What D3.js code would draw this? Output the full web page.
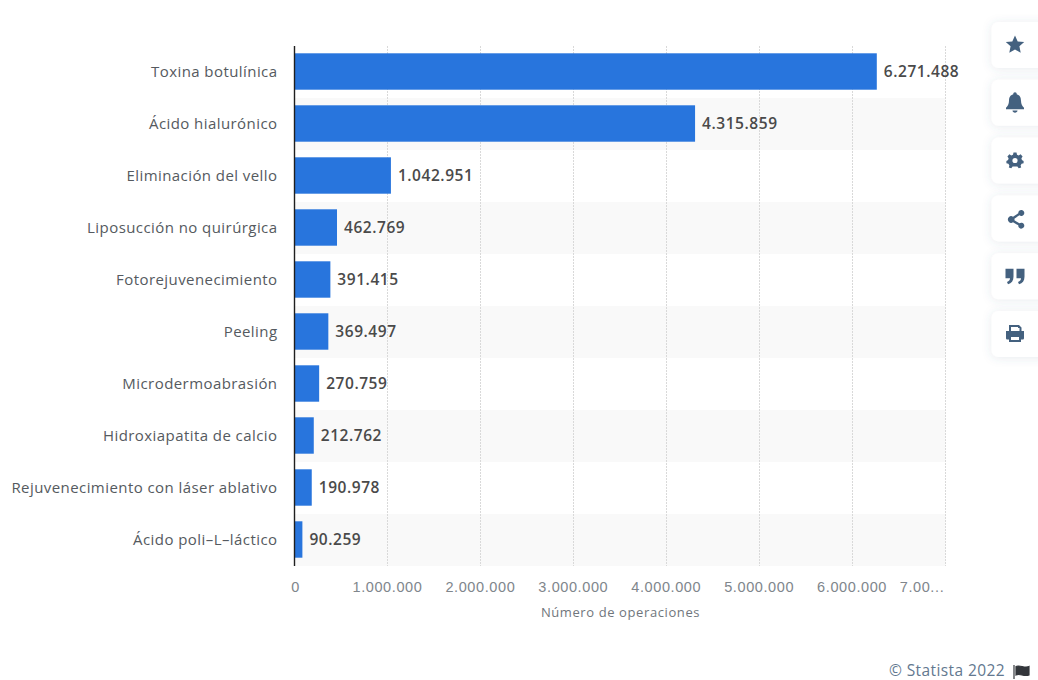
<!DOCTYPE html>
<html lang="es">
<head>
<meta charset="utf-8">
<script src="https://cdn.jsdelivr.net/npm/d3@7"></script>
<style>
html,body{margin:0;padding:0;background:#fff;overflow:hidden}
svg{display:block;font-family:"Open Sans",sans-serif}
</style>
</head>
<body>
<svg id="chart" width="1038" height="680"></svg>
<script>
// Procedimientos estéticos no quirúrgicos más realizados
const procedures = ["Toxina botulínica","Ácido hialurónico","Eliminación del vello","Liposucción no quirúrgica","Fotorejuvenecimiento","Peeling","Microdermoabrasión","Hidroxiapatita de calcio","Rejuvenecimiento con láser ablativo","Ácido poli–L–láctico"];
const operations = [6271488,4315859,1042951,462769,391415,369497,270759,212762,190978,90259];
const tickValues = [0,1000000,2000000,3000000,4000000,5000000,6000000,7000000];
const tickLabels = ["0","1.000.000","2.000.000","3.000.000","4.000.000","5.000.000","6.000.000","7.00..."];
const axisTitle = "Número de operaciones";
const credit = "© Statista 2022";
const sideButtons = ["star","bell","gear","share","quote","print"];

const es = d3.formatLocale({decimal:",",thousands:".",grouping:[3],currency:["","€"]});
const fmt = es.format(",d");

const svg = d3.select("#chart");
const defs = svg.append("defs");
const shadow = defs.append("filter").attr("id","card").attr("x","-40%").attr("y","-40%").attr("width","180%").attr("height","180%");
shadow.append("feDropShadow").attr("dx",0).attr("dy",1).attr("stdDeviation",5).attr("flood-color","#44617f").attr("flood-opacity",0.13);

const x = d3.scaleLinear().domain([0,7000000]).range([294,944.5]);
const y = d3.scaleBand().domain(procedures).range([45.5,565.5]).paddingInner(0.3).paddingOuter(0.15);
const rowH = y.step();

// bandas alternas
svg.append("g").selectAll("rect")
  .data(procedures.filter((d,i)=>i%2===1))
  .join("rect")
  .attr("x",x(0)).attr("width",x(7000000)-x(0)+1)
  .attr("y",d=>y(d)-(rowH-y.bandwidth())/2+0.5)
  .attr("height",rowH)
  .attr("fill","#f9f9f9");

// rejilla vertical punteada
svg.append("g").selectAll("line")
  .data(tickValues.slice(1))
  .join("line")
  .attr("x1",d=>Math.round(x(d))+0.5).attr("x2",d=>Math.round(x(d))+0.5)
  .attr("y1",46).attr("y2",566)
  .attr("stroke","#d9d9d9").attr("stroke-width",1).attr("stroke-dasharray","2 1");

// barras
svg.append("g").selectAll("rect")
  .data(procedures)
  .join("rect")
  .attr("x",x(0)).attr("y",d=>y(d))
  .attr("width",(d,i)=>x(operations[i])-x(0))
  .attr("height",y.bandwidth())
  .attr("fill","#2875dd");

// valores
svg.append("g").selectAll("text")
  .data(procedures)
  .join("text")
  .attr("x",(d,i)=>x(operations[i])+7)
  .attr("y",d=>y(d)+y.bandwidth()/2)
  .attr("dy","0.36em")
  .attr("font-size",15.5).attr("font-weight",600).attr("letter-spacing",0.55).attr("fill","#4a4a4a")
  .text((d,i)=>fmt(operations[i]));

// categorías
svg.append("g").selectAll("text")
  .data(procedures)
  .join("text")
  .attr("x",277.5)
  .attr("y",d=>y(d)+y.bandwidth()/2)
  .attr("dy","0.36em")
  .attr("text-anchor","end")
  .attr("font-size",15).attr("letter-spacing",0.43).attr("fill","#555a60")
  .text(d=>d);

// eje de categorías
svg.append("line").attr("x1",294.5).attr("x2",294.5).attr("y1",46).attr("y2",566)
  .attr("stroke","#1f1f1f").attr("stroke-width",1.4);

// etiquetas del eje de valores
const axis = d3.axisBottom(x).tickValues(tickValues).tickSize(0).tickPadding(0)
  .tickFormat((d,i)=>tickLabels[i]);
const gx = svg.append("g").attr("transform","translate(0,581.5)").call(axis);
gx.select(".domain").remove();
gx.selectAll("text").attr("font-family","inherit").attr("font-size",14.5).attr("letter-spacing",0.6).attr("fill","#80868c").attr("dy","0.71em");
gx.selectAll(".tick").filter(d=>d===0).select("text").attr("dx",1);
gx.selectAll(".tick").filter(d=>d===7000000).select("text").attr("dx",-23);

svg.append("text").attr("x",620.5).attr("y",617).attr("text-anchor","middle")
  .attr("font-size",13).attr("letter-spacing",0.6).attr("fill","#70767c").text(axisTitle);

// crédito y bandera
svg.append("text").attr("x",1005).attr("y",675.5).attr("text-anchor","end")
  .attr("font-size",15.5).attr("letter-spacing",0.4).attr("fill","#63788f").text(credit);
svg.append("path").attr("d","M1014 665V679M1016 666.5C1020 664.5 1024 668.5 1029 666.5V675C1024 677 1020 673 1016 675Z")
  .attr("fill","#33363b").attr("stroke","#33363b").attr("stroke-width",1.2);

// botones laterales
const glyphs = {
  star:"M0 -9L2.7 -3.1L9.2 -2.6L4.4 1.8L5.7 8.3L0 5L-5.7 8.3L-4.4 1.8L-9.2 -2.6L-2.7 -3.1Z",
  bell:"M0 -10C1.2 -10 1.8 -9 1.7 -8C4.9 -7.2 6 -4.5 6 -1.5C6 2 7.4 3.8 9 5.5V7H-9V5.5C-7.4 3.8 -6 2 -6 -1.5C-6 -4.5 -4.9 -7.2 -1.7 -8C-1.8 -9 -1.2 -10 0 -10ZM-2.5 8.2H2.5C2.5 9.6 1.3 10.4 0 10.4C-1.3 10.4 -2.5 9.6 -2.5 8.2Z",
  gear:"M-1.5 -7.5H1.5L2 -5.4L3.7 -4.7L5.6 -5.8L7.6 -3.6L6.4 -1.8L6.9 0L8.6 .8V3.2L6.6 3.7L5.6 5.3L6.2 7.3L3.7 8.1L2.4 6.5H-2.4L-3.7 8.1L-6.2 7.3L-5.6 5.3L-6.6 3.7L-8.6 3.2V.8L-6.9 0L-6.4 -1.8L-7.6 -3.6L-5.6 -5.8L-3.7 -4.7L-2 -5.4ZM0 -2.2A2.6 2.6 0 1 0 0.01 3A2.6 2.6 0 1 0 0 -2.2Z",
  share:"M-2 -1.2L3.3 -4.6A3 3 0 1 1 4.4 -2.6L-.6 .8A3 3 0 0 1 -.6 2.4L4.4 5.4A3 3 0 1 1 3.3 7.4L-2 4.4A3.3 3.3 0 1 1 -2 -1.2Z",
  quote:"M-9.5 -7H-1.5V1C-1.5 5 -3.5 7.6 -7 8.5L-8 6.2C-6 5.4 -5 4.2 -5 2.5H-9.5ZM1.5 -7H9.5V1C9.5 5 7.5 7.6 4 8.5L3 6.2C5 5.4 6 4.2 6 2.5H1.5Z",
  print:"M-6 -8.5H4L6.5 -6V-2.5H9V4.5C9 5.5 8.4 6 7.5 6H6V8.5H-6V6H-7.5C-8.4 6 -9 5.5 -9 4.5V-2.5H-6ZM-4 -6.5V-2.5H4.5V-5.5H3V-6.5ZM-4 3.5V6.5H4V3.5Z"
};
const cardY = d3.scalePoint().domain(sideButtons).range([22,311]);
const cards = svg.append("g").selectAll("g").data(sideButtons).join("g")
  .attr("transform",d=>`translate(991.5,${cardY(d)})`);
cards.append("rect").attr("width",60).attr("height",46).attr("rx",7)
  .attr("fill","#fff").attr("filter","url(#card)");
cards.append("path").attr("transform","translate(23.5,22.5)")
  .attr("d",d=>glyphs[d]).attr("fill","#44617f").attr("fill-rule","evenodd");
</script>
</body>
</html>
